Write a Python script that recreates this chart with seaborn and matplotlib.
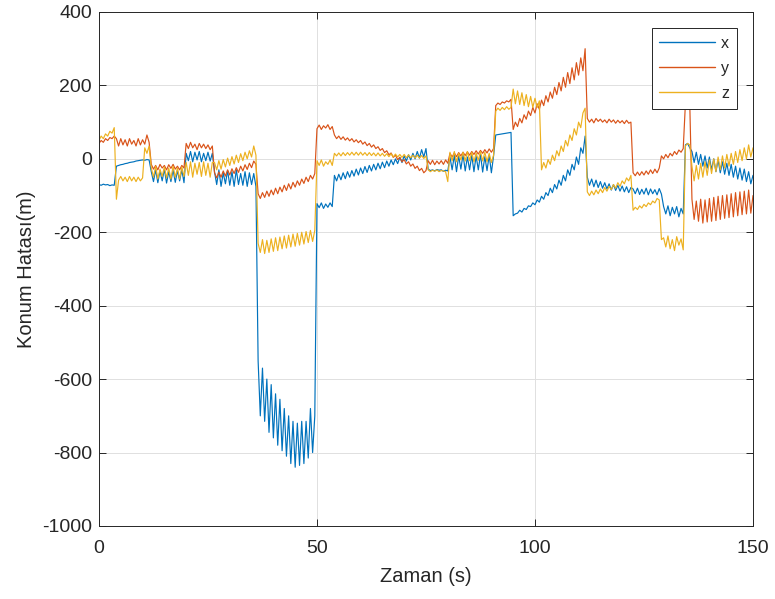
import numpy as np
import pandas as pd
import matplotlib
matplotlib.use("Agg")
import matplotlib.pyplot as plt
import seaborn as sns

# Sample spacing of the series (s)
dt = 0.5

# x-axis position error (m), one value every 0.5 s from t = 0 to 150
x_err = [
    -70, -72, -69, -71, -70, -73, -71, -72,
    -20, -18, -16, -15, -13, -12, -10, -9, -8, -6, -5, -4, -3, -4, -2, -3,
    -35, -62, -30, -65, -33, -60, -28, -66, -35, -62, -30, -64, -32, -60, -30, -65,
    15, -5, 20, -8, 18, -3, 20, -8, 15, -5, 18, -6, 15,
    -35, -70, -30, -75, -38, -68, -32, -72, -35, -75, -30, -70, -40, -72, -35, -75, -38, -70, -40, -75,
    -550,
    -700, -570, -715, -600, -745, -615, -760, -640, -780, -655, -795, -680, -810, -700, -830, -715,
    -840, -720, -835, -715, -830, -715, -815, -680, -800, -700,
    -122, -133, -120, -135, -123, -132, -120, -130,
    -45, -60, -42, -57, -38, -54, -35, -50, -32, -47,
    -28, -44, -25, -40, -21, -37, -18, -33, -15, -30,
    -12, -27, -9, -24, -6, -20, -3, -16, 0, -13,
    4, -10, 8, -6, 11, -3, 15, 0, 20, 2,
    25, 5, 28,
    -28, -32, -30, -33, -29, -31, -30, -34, -31, -33,
    5, -30, 10, -35, 8, -28, 12, -33, 5, -30, 10, -35, 8, -30, 12, -36, 6, -32, 10, -38, 8,
    65, 66, 67, 68, 69, 70, 71, 72,
    -155, -150, -148, -140, -145, -135, -138, -128, -130, -120,
    -125, -112, -118, -102, -110, -92, -100, -80, -92, -70,
    -82, -58, -72, -45, -60, -30, -45, -15, -30, 5,
    -15, 30, 15, 62,
    -50, -72, -55, -76, -58, -78, -62, -80, -65, -82,
    -68, -85, -70, -86, -72, -88, -74, -90, -76, -92, -78,
    -82, -95, -80, -97, -83, -96, -80, -98, -82, -95, -84, -98, -81, -96,
    -130, -150, -128, -155, -132, -150, -130, -158, -135, -150,
    38, 42, 30,
    20, -10, 18, -15, 12, -20, 8, -25, 5, -30,
    0, -35, -3, -38, -8, -42, -12, -45, -15, -50,
    -20, -55, -25, -58, -28, -62, -35, -68, -45,
]

# y-axis position error (m)
y_err = [
    42, 50, 45, 55, 50, 58, 55, 62,
    55, 35, 55, 38, 52, 35, 55, 40, 50, 35, 55, 38, 52, 40, 65, 45,
    -15, -28, -18, -30, -15, -25, -18, -30, -16, -26, -15, -28, -20, -30, -18, -25,
    42, 28, 45, 30, 40, 25, 42, 30, 40, 28, 38, 25, 35,
    -38, -52, -36, -50, -33, -47, -30, -44, -27, -40, -24, -37, -20, -33, -16, -29, -12, -24, -6, -15,
    -95,
    -108, -92, -105, -88, -102, -85, -98, -80, -95, -77, -90, -72, -86, -68, -82, -64,
    -77, -60, -72, -55, -67, -50, -62, -45, -55, -40,
    82, 92, 80, 90, 84, 93, 80, 88,
    65, 55, 62, 53, 60, 51, 57, 49, 55, 46,
    52, 44, 50, 40, 46, 36, 42, 32, 38, 28,
    33, 23, 28, 17, 22, 11, 16, 4, 10, -2,
    4, -8, -2, -14, -8, -20, -14, -26, -20, -32,
    -26, -38, -32,
    -5, -15, -4, -16, -6, -14, -5, -15, -3, -12,
    15, 5, 16, 6, 17, 8, 18, 9, 19, 10, 20, 12, 22, 13, 23, 15, 25, 16, 27, 18, 28,
    145, 152, 148, 155, 152, 158, 155, 162,
    80, 100, 88, 110, 98, 120, 108, 130, 118, 140,
    125, 150, 135, 160, 145, 172, 155, 182, 165, 195,
    175, 208, 185, 222, 195, 235, 205, 248, 215, 262,
    228, 275, 240, 300,
    110, 100, 108, 98, 110, 102, 108, 100, 106, 98,
    108, 100, 106, 97, 105, 98, 104, 96, 105, 97, 100,
    -38, -46, -36, -45, -35, -44, -33, -42, -30, -40, -28, -38, -25, 8,
    0, 12, 3, 15, 8, 20, 12, 24, 18, 28,
    150, 152, 150,
    -110, -165, -115, -170, -110, -175, -112, -172, -108, -170,
    -105, -168, -102, -165, -100, -162, -98, -160, -95, -158,
    -92, -155, -90, -152, -88, -150, -85, -148, -100,
]

# z-axis position error (m)
z_err = [
    50, 62, 55, 68, 62, 75, 70, 85,
    -110, -58, -48, -60, -50, -62, -48, -60, -50, -62, -50, -60, -52, 30, 15, 35,
    -25, -50, -20, -55, -28, -48, -22, -52, -25, -55, -20, -50, -25, -55, -22, -48,
    -10, -45, -8, -50, -12, -42, -10, -48, -8, -45, -12, -50, -10,
    -10, -30, -5, -28, -2, -22, 2, -18, 6, -14, 10, -10, 14, -5, 18, 0, 22, 5, 35, 10,
    -230,
    -255, -220, -258, -222, -255, -218, -252, -215, -250, -213, -245, -210, -243, -208, -240, -205,
    -238, -203, -235, -200, -232, -198, -228, -195, -225, -195,
    -5, -18, -3, -20, -8, -15, -3, -18,
    15, 8, 16, 8, 17, 9, 17, 10, 18, 10,
    18, 10, 18, 10, 17, 9, 17, 9, 16, 8,
    16, 8, 15, 7, 14, 6, 14, 5, 13, 5,
    12, 4, 12, 3, 11, 3, 10, 2, 10, 2,
    9, 1, 8,
    -30, -35, -31, -34, -30, -35, -32, -33, -35, -62,
    18, -5, 20, -8, 15, -3, 18, -6, 20, -5, 18, -8, 16, -4, 20, -6, 18, -8, 15, -10, 10,
    130, 138, 132, 140, 134, 142, 135, 140,
    190, 150, 185, 148, 180, 145, 175, 142, 170, 140,
    165, 140, 158, -30, -10, -25, -2, -15, 10, -5,
    22, 8, 35, 20, 50, 35, 65, 50, 82, 65,
    100, 85, 125, 138,
    -90, -100, -88, -98, -85, -95, -82, -92, -78, -88,
    -75, -84, -70, -80, -65, -75, -60, -68, -52, -60, -45,
    -140, -132, -138, -128, -134, -124, -130, -120, -125, -115, -120, -108, -112, -220,
    -215, -240, -210, -245, -220, -250, -212, -235, -218, -248,
    35, 42, 38,
    -20, -60, -18, -55, -12, -50, -8, -45, -3, -40,
    0, -35, 5, -30, 8, -25, 12, -20, 15, -15,
    20, -10, 25, -5, 30, 0, 38, 5, 30,
]

series_names = ["x", "y", "z"]
series_values = [x_err, y_err, z_err]
series_colors = ["#0072BD", "#D95319", "#EDB120"]

x_ticks = [0, 50, 100, 150]
y_ticks = [-1000, -800, -600, -400, -200, 0, 200, 400]

frames = []
for name, vals in zip(series_names, series_values):
    frames.append(pd.DataFrame({
        "Zaman": np.arange(len(vals)) * dt,
        "Hata": vals,
        "Eksen": name,
    }))
df = pd.concat(frames, ignore_index=True)

sns.set_theme(style="white")
plt.rcParams["font.family"] = ["Liberation Sans", "DejaVu Sans"]

fig = plt.figure(figsize=(7.75, 5.99), dpi=100)
ax = fig.add_axes([0.1277, 0.1219, 0.8439, 0.8581])

sns.lineplot(data=df, x="Zaman", y="Hata", hue="Eksen",
             palette=dict(zip(series_names, series_colors)),
             estimator=None, sort=False, linewidth=0.85, ax=ax)

ax.set_xlim(0, 150)
ax.set_ylim(-1000, 400)
ax.set_xticks(x_ticks)
ax.set_yticks(y_ticks)
ax.set_xticklabels([str(v) for v in x_ticks])
ax.set_yticklabels([str(v) for v in y_ticks])
ax.grid(True, color="#e0e0e0", linewidth=0.7)
ax.set_axisbelow(True)

for sp in ax.spines.values():
    sp.set_visible(True)
    sp.set_color("#262626")
    sp.set_linewidth(0.7)

ax.tick_params(axis="both", which="both", direction="in", length=5, width=0.7,
               color="#262626", labelcolor="#262626", labelsize=14,
               top=True, right=True, bottom=True, left=True)
ax.tick_params(axis="x", pad=10)
ax.tick_params(axis="y", pad=5)

ax.set_xlabel("Zaman (s)", fontsize=14.5, color="#262626", labelpad=7)
ax.set_ylabel("Konum Hatası(m)", fontsize=14.5, color="#262626", labelpad=4)

handles, labels = ax.get_legend_handles_labels()
leg = ax.legend(handles, labels, loc="upper right", bbox_to_anchor=(0.9755, 0.969),
                borderaxespad=0, fontsize=11.5, handlelength=3.5, handletextpad=0.35,
                labelspacing=0.62, borderpad=0.5, frameon=True, fancybox=False,
                framealpha=1, edgecolor="#262626", markerfirst=True)
leg.get_frame().set_linewidth(0.7)
for line in leg.get_lines():
    line.set_linewidth(1.0)

fig.savefig("out.png", dpi=100)
